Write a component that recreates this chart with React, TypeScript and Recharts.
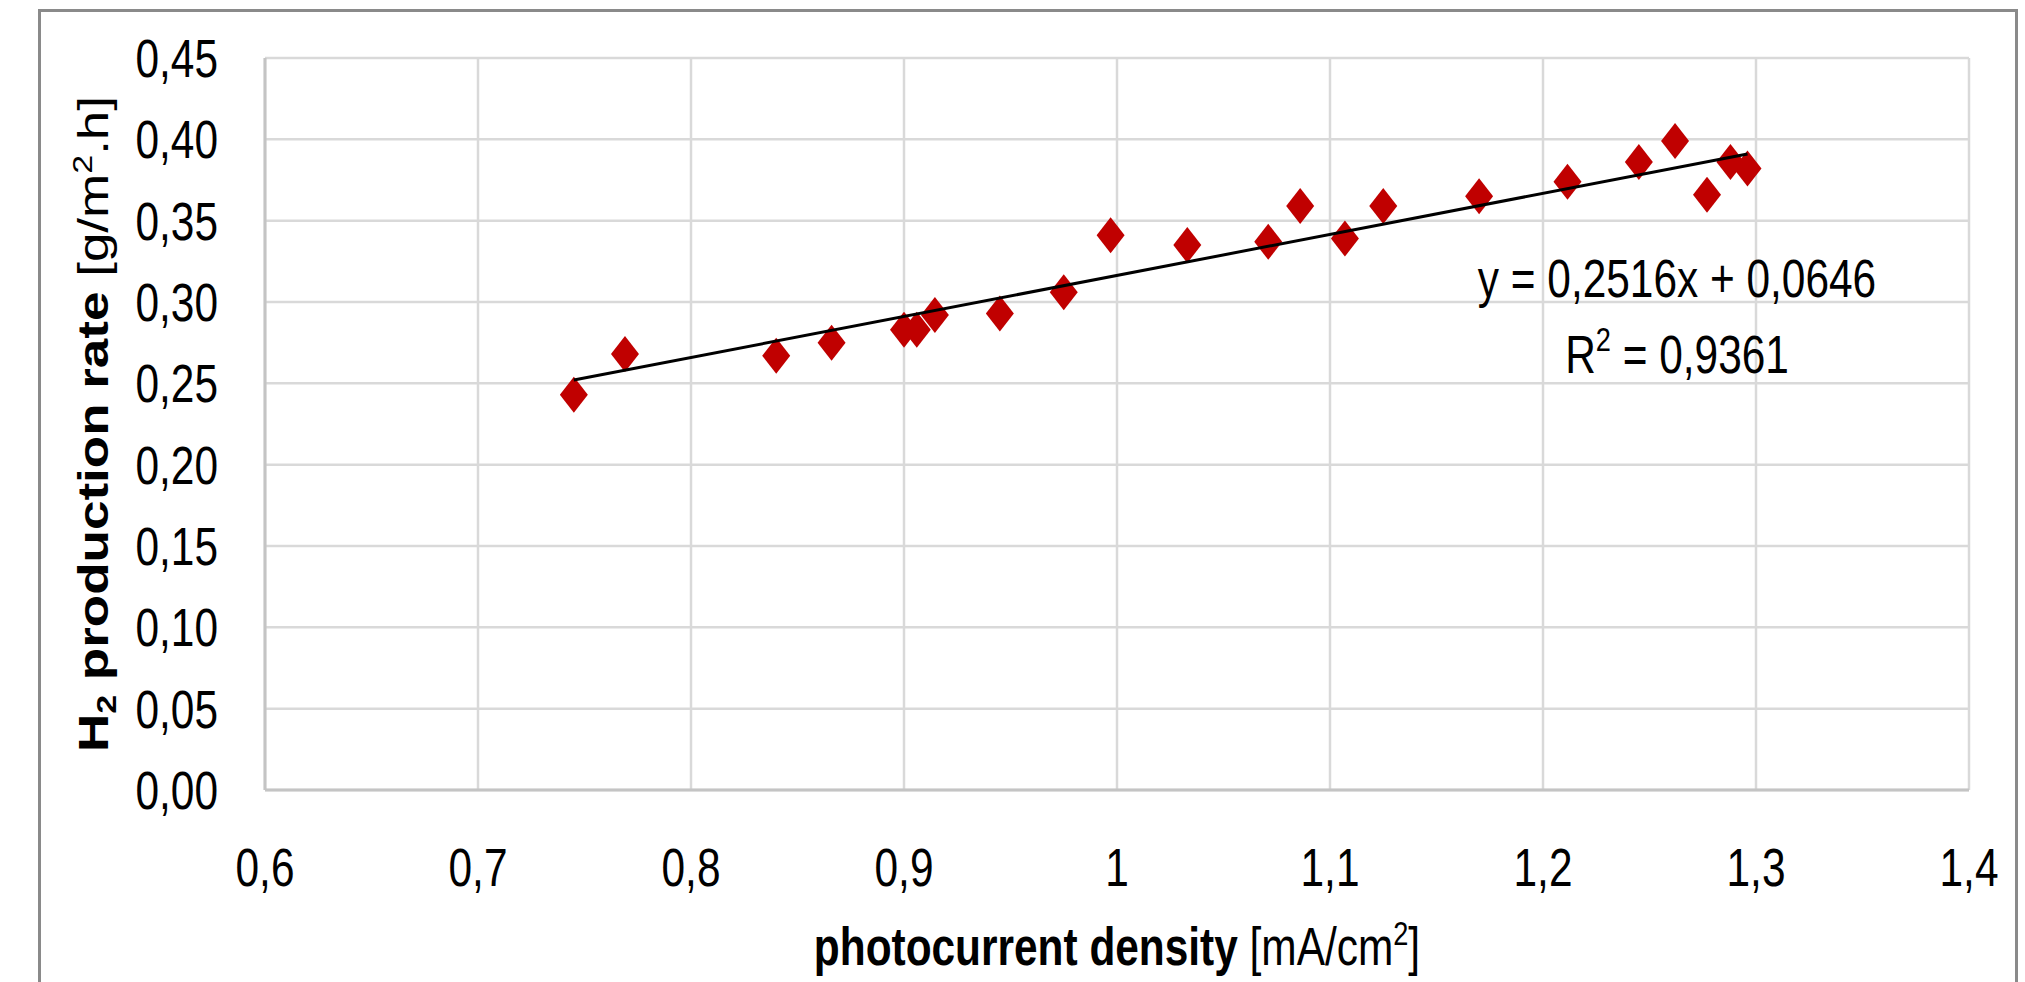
import { ScatterChart, Scatter, XAxis, YAxis, CartesianGrid, Label, Customized } from "recharts";

// measured points: photocurrent density [mA/cm2] vs H2 production rate [g/m2.h]
const photocurrent = [
  0.745, 0.769, 0.84, 0.866, 0.9, 0.906, 0.9145, 0.945, 0.975, 0.997, 1.033,
  1.071, 1.086, 1.107, 1.125, 1.17, 1.2115, 1.245, 1.262, 1.277, 1.288, 1.296,
];
const h2Rate = [
  0.243, 0.268, 0.267, 0.275, 0.283, 0.283, 0.292, 0.293, 0.306, 0.341, 0.335,
  0.337, 0.359, 0.339, 0.359, 0.365, 0.374, 0.386, 0.399, 0.366, 0.386, 0.382,
];

// linear trendline end points (as drawn)
const trendX = [0.745, 1.296];
const trendY = [0.252, 0.391];

const xTicks = [0.6, 0.7, 0.8, 0.9, 1, 1.1, 1.2, 1.3, 1.4];
const yTicks = [0, 0.05, 0.1, 0.15, 0.2, 0.25, 0.3, 0.35, 0.4, 0.45];

const equation = "y = 0,2516x + 0,0646";
const rSquared = "0,9361";

const points = photocurrent.map((x, i) => ({ x, y: h2Rate[i] }));
const trend = trendX.map((x, i) => ({ x, y: trendY[i] }));

const FONT = "'Liberation Sans', Arial, sans-serif";
const SQUASH = 0.8;

const Diamond = (props: any) => {
  const { cx, cy } = props;
  if (cx == null || cy == null) return <g />;
  return (
    <path
      d={`M${cx},${cy - 18} L${cx + 14},${cy} L${cx},${cy + 18} L${cx - 14},${cy} Z`}
      fill="#c00000"
    />
  );
};

const NoShape = () => <g />;

const XTick = ({ x, y, payload }: any) => (
  <g transform={`translate(${x},${y}) scale(${SQUASH},1)`}>
    <text x={0} y={38} textAnchor="middle" fontSize={53} fontFamily={FONT} fill="#000">
      {String(payload.value).replace(".", ",")}
    </text>
  </g>
);

const YTick = ({ x, y, payload }: any) => (
  <g transform={`translate(${x},${y}) scale(${SQUASH},1)`}>
    <text x={0} y={19} textAnchor="end" fontSize={53} fontFamily={FONT} fill="#000">
      {Number(payload.value).toFixed(2).replace(".", ",")}
    </text>
  </g>
);

const XTitle = ({ viewBox }: any) => {
  const cx = viewBox.x + viewBox.width / 2;
  return (
    <g transform={`translate(${cx},965) scale(${SQUASH},1)`}>
      <text x={0} y={0} textAnchor="middle" fontSize={53} fontFamily={FONT} fill="#000">
        <tspan fontWeight="bold">photocurrent density</tspan>
        <tspan> [mA/cm</tspan>
        <tspan fontSize={34} dy={-20}>2</tspan>
        <tspan dy={20}>]</tspan>
      </text>
    </g>
  );
};

const YTitle = ({ viewBox }: any) => {
  const cy = viewBox.y + viewBox.height / 2;
  return (
    <g transform={`translate(108,${cy}) scale(${SQUASH},1) rotate(-90)`}>
      <text x={0} y={0} textAnchor="middle" fontSize={53} fontFamily={FONT} fill="#000">
        <tspan fontWeight="bold">H</tspan>
        <tspan fontWeight="bold" fontSize={34} dy={10}>2</tspan>
        <tspan fontWeight="bold" dy={-10}> production rate</tspan>
        <tspan> [g/m</tspan>
        <tspan fontSize={34} dy={-20}>2</tspan>
        <tspan dy={20}>.h]</tspan>
      </text>
    </g>
  );
};

const TrendLabel = () => (
  <g fontFamily={FONT} fontSize={53} fill="#000">
    <g transform={`translate(1677,297) scale(${SQUASH},1)`}>
      <text x={0} y={0} textAnchor="middle">{equation}</text>
    </g>
    <g transform={`translate(1677,373) scale(${SQUASH},1)`}>
      <text x={0} y={0} textAnchor="middle">
        <tspan>R</tspan>
        <tspan fontSize={34} dy={-22}>2</tspan>
        <tspan dy={22}>{` = ${rSquared}`}</tspan>
      </text>
    </g>
  </g>
);

export default function App() {
  return (
    <div
      style={{
        position: "absolute",
        left: 0,
        top: 0,
        width: 2025,
        height: 982,
        overflow: "hidden",
        background: "#fff",
      }}
    >
      <div
        style={{
          position: "absolute",
          left: 38,
          top: 9,
          width: 1974,
          height: 1020,
          border: "3px solid #8a8a8a",
        }}
      />
      <div style={{ position: "absolute", left: 0, top: 0 }}>
        <ScatterChart
          width={2025}
          height={982}
          margin={{ top: 58, right: 56, bottom: 0, left: 0 }}
        >
          <CartesianGrid stroke="#d9d9d9" strokeWidth={2.5} />
          <XAxis
            type="number"
            dataKey="x"
            domain={[0.6, 1.4]}
            ticks={xTicks}
            allowDataOverflow
            height={192}
            tickSize={0}
            tickMargin={58}
            tickLine={false}
            axisLine={{ stroke: "#c4c4c4", strokeWidth: 3 }}
            tick={<XTick />}
            interval={0}
          >
            <Label content={<XTitle />} />
          </XAxis>
          <YAxis
            type="number"
            dataKey="y"
            domain={[0, 0.45]}
            ticks={yTicks}
            allowDataOverflow
            width={265}
            tickSize={0}
            tickMargin={47}
            tickLine={false}
            axisLine={{ stroke: "#c4c4c4", strokeWidth: 3 }}
            tick={<YTick />}
            interval={0}
          >
            <Label content={<YTitle />} />
          </YAxis>
          <Scatter data={points} shape={<Diamond />} isAnimationActive={false} />
          <Scatter
            data={trend}
            shape={<NoShape />}
            line={{ stroke: "#000", strokeWidth: 3 }}
            isAnimationActive={false}
          />
          <Customized component={<TrendLabel />} />
        </ScatterChart>
      </div>
    </div>
  );
}
